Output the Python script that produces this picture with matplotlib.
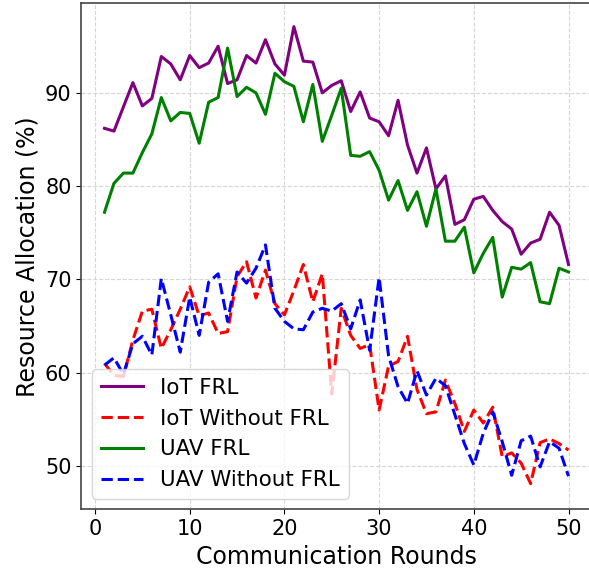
import matplotlib
matplotlib.use("Agg")
import matplotlib.pyplot as plt
import numpy as np

rounds = list(range(1, 51))

iot_frl = [86.2, 85.9, 88.5, 91.1, 88.6, 89.4, 93.9, 93.1, 91.4, 94.0,
           92.7, 93.2, 95.0, 91.0, 91.4, 94.0, 93.2, 95.7, 93.1, 91.9,
           97.1, 93.4, 93.3, 90.0, 90.8, 91.3, 88.0, 90.1, 87.3, 86.9,
           85.4, 89.2, 84.4, 81.4, 84.1, 79.7, 81.1, 75.9, 76.4, 78.6,
           78.9, 77.4, 76.2, 75.4, 72.7, 73.9, 74.3, 77.2, 75.8, 71.6]

iot_wo = [61.0, 59.7, 59.6, 63.5, 66.6, 66.8, 62.6, 64.6, 66.8, 69.2,
          66.1, 66.4, 64.2, 64.4, 70.3, 71.9, 68.0, 71.0, 67.4, 66.2,
          68.8, 71.6, 67.6, 70.6, 57.7, 66.9, 64.0, 62.6, 63.0, 56.0,
          60.7, 61.2, 63.9, 58.2, 55.6, 55.8, 59.2, 56.7, 53.7, 56.0,
          54.6, 56.3, 51.0, 51.4, 50.3, 48.1, 52.5, 52.9, 52.4, 51.7]

uav_frl = [77.2, 80.3, 81.4, 81.4, 83.6, 85.6, 89.5, 87.0, 87.9, 87.8,
           84.6, 89.0, 89.5, 94.8, 89.6, 90.6, 90.0, 87.7, 92.1, 91.2,
           90.7, 86.9, 90.9, 84.8, 87.6, 90.5, 83.3, 83.2, 83.7, 81.7,
           78.5, 80.6, 77.4, 79.4, 75.7, 79.7, 74.1, 74.1, 75.6, 70.7,
           72.8, 74.5, 68.1, 71.3, 71.1, 71.8, 67.6, 67.4, 71.2, 70.8]

uav_wo = [60.8, 61.6, 59.8, 63.1, 63.9, 61.9, 70.1, 66.2, 62.2, 68.1,
          64.0, 69.7, 70.6, 65.5, 70.8, 69.6, 71.2, 73.7, 66.9, 65.5,
          64.7, 64.6, 66.5, 66.9, 66.6, 67.4, 64.7, 67.8, 62.4, 70.2,
          61.8, 58.5, 56.7, 60.2, 57.6, 59.4, 58.6, 55.5, 52.4, 50.1,
          53.5, 55.8, 52.6, 49.0, 52.7, 53.2, 49.9, 52.6, 51.9, 48.9]

fig = plt.figure(figsize=(5.89, 5.74), dpi=100)
ax = fig.add_axes([0.138, 0.1127, 0.8666, 0.8815])

lw = 2.2
ax.plot(rounds, iot_frl, color='purple', linestyle='-', linewidth=lw, label='IoT FRL')
ax.plot(rounds, iot_wo, color='red', linestyle='--', linewidth=lw, label='IoT Without FRL')
ax.plot(rounds, uav_frl, color='green', linestyle='-', linewidth=lw, label='UAV FRL')
ax.plot(rounds, uav_wo, color='blue', linestyle='--', linewidth=lw, label='UAV Without FRL')

ax.set_xlim(-1.45, 52.45)
ax.set_ylim(45.35, 99.6)
ax.set_xticks([0, 10, 20, 30, 40, 50])
ax.set_yticks([50, 60, 70, 80, 90])
ax.tick_params(labelsize=15)
ax.set_xlabel('Communication Rounds', fontsize=17)
ax.set_ylabel('Resource Allocation (%)', fontsize=17)
ax.grid(True, linestyle='--', color='#cccccc', alpha=0.8)
for s in ax.spines.values():
    s.set_color('#444444')
    s.set_linewidth(1.2)

ax.legend(loc='lower left', fontsize=15.4)

fig.savefig('out.png', dpi=100)
